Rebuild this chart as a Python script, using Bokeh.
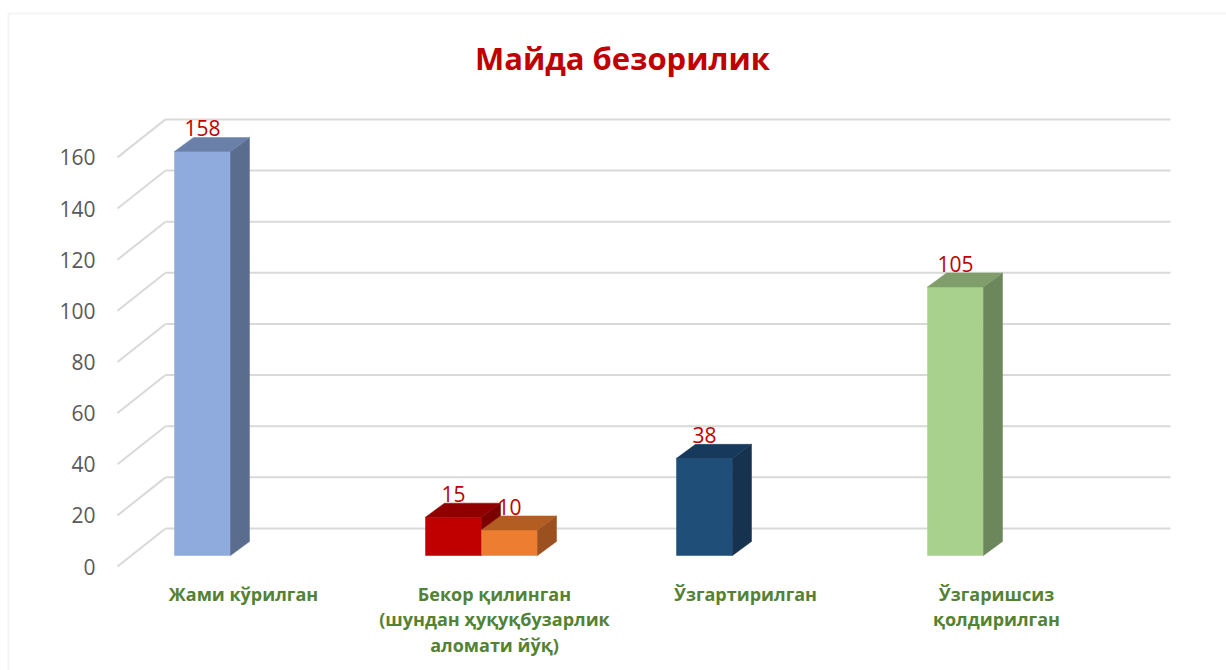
from bokeh.plotting import figure
from bokeh.models import Range1d, BoxAnnotation
from bokeh.core.properties import value
from bokeh.embed import file_html
from bokeh.resources import INLINE

# ---------------- data ----------------
title_text = "Майда безорилик"
categories = [
    "Жами кўрилган",
    "Бекор қилинган\n(шундан ҳуқуқбузарлик\nаломати йўқ)",
    "Ўзгартирилган",
    "Ўзгаришсиз\nқолдирилган",
]
values = [158, 15, 38, 105]
extra_category = [1]
extra_values = [10]
y_ticks = [0, 20, 40, 60, 80, 100, 120, 140, 160]

main_front = ["#8FAADC", "#C00000", "#1F4E79", "#A9D18E"]
main_side = ["#5B6D8E", "#7B0000", "#16324F", "#6C875B"]
main_top = ["#6B80A8", "#900000", "#173A5C", "#7F9E6B"]
extra_front = ["#ED7D31"]
extra_side = ["#9A501F"]
extra_top = ["#B35D23"]

# ---------------- geometry (pixel scale helpers) ----------------
W, H = 1226, 670
PX_X = 251.0   # pixels per category
K = 2.557      # pixels per value unit
X0_PX = 202.0  # pixel x of category 0 centre
Y0_PX = 555.0  # pixel y of value 0 (bar front plane)

def dx(px):
    return px / PX_X

def dy(px):
    return px / K

BAR_W = dx(56)
DEP_X = dx(19)
DEP_Y = dy(14)
FRONT_X = dx(117 - X0_PX)
FRONT_DY = -dy(11)
BACK_X = dx(165 - X0_PX)
BACK_DY = dy(27)
GRID_END = dx(1170 - X0_PX)
TICK_X = dx(95 - X0_PX)
CAT_DX = dx(243 - X0_PX)

p = figure(width=W, height=H, output_backend="svg", toolbar_location=None,
           x_range=Range1d(-X0_PX / PX_X, (W - X0_PX) / PX_X),
           y_range=Range1d(-(H - Y0_PX) / K, Y0_PX / K),
           min_border=0, x_axis_location=None, y_axis_location=None)
p.grid.visible = False
p.outline_line_color = None
p.background_fill_color = "white"
p.border_fill_color = "white"

# chart border (left & top visible)
p.add_layout(BoxAnnotation(left=dx(8 - X0_PX), right=dx(1260 - X0_PX),
                           top=dy(Y0_PX - 13), bottom=-dy(200),
                           fill_alpha=0, line_color="#D9D9D9", line_width=2))

# gridlines: back wall + side diagonals
back_y = [t + BACK_DY for t in y_ticks]
front_y = [t + FRONT_DY for t in y_ticks]
p.segment(x0=[BACK_X] * len(y_ticks), y0=back_y, x1=[GRID_END] * len(y_ticks), y1=back_y,
          line_color="#D9D9D9", line_width=2)
p.segment(x0=[FRONT_X] * len(y_ticks), y0=front_y, x1=[BACK_X] * len(y_ticks), y1=back_y,
          line_color="#D9D9D9", line_width=2)

# tick labels
p.text(x=[TICK_X] * len(y_ticks), y=front_y, text=[str(t) for t in y_ticks],
       text_align="right", text_baseline="middle", text_color="#595959",
       text_font=value("Open Sans"), text_font_size="21px")

def draw_bars(centres, vals, front, side, top):
    lefts = [c - BAR_W / 2 for c in centres]
    rights = [c + BAR_W / 2 for c in centres]
    p.quad(left=lefts, right=rights, bottom=[0] * len(vals), top=vals,
           fill_color=front, line_color=front, line_width=0.5)
    side_xs = [[r, r, r + DEP_X, r + DEP_X] for r in rights]
    side_ys = [[0, v, v + DEP_Y, DEP_Y] for v in vals]
    p.patches(xs=side_xs, ys=side_ys, fill_color=side, line_color=side, line_width=0.5)
    top_xs = [[l, r, r + DEP_X, l + DEP_X] for l, r in zip(lefts, rights)]
    top_ys = [[v, v, v + DEP_Y, v + DEP_Y] for v in vals]
    p.patches(xs=top_xs, ys=top_ys, fill_color=top, line_color=top, line_width=0.5)
    p.text(x=centres, y=[v + DEP_Y + dy(1) for v in vals], text=[str(v) for v in vals],
           text_align="center", text_baseline="bottom", text_color="#C00000",
           text_font=value("Open Sans"), text_font_size="21px")

main_centres = list(range(len(categories)))
draw_bars(main_centres, values, main_front, main_side, main_top)
draw_bars([c + BAR_W for c in extra_category], extra_values, extra_front, extra_side, extra_top)

# category labels
p.text(x=[i + CAT_DX for i in main_centres], y=[-dy(581 - Y0_PX)] * len(categories),
       text=categories, text_align="center", text_baseline="top",
       text_color="#548235", text_font=value("Open Sans"), text_font_style="bold",
       text_font_size="18px", text_line_height=1.08)

# title
p.text(x=[dx(622 - X0_PX)], y=[dy(Y0_PX - 57)], text=[title_text],
       text_align="center", text_baseline="middle", text_color="#C00000",
       text_font=value("Open Sans"), text_font_style="bold", text_font_size="31px")

open("out.html", "w").write(file_html(p, INLINE))
